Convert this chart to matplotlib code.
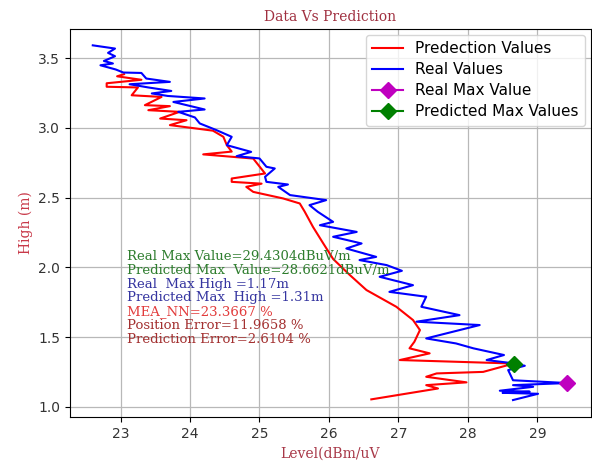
import matplotlib
matplotlib.use("Agg")
import matplotlib.pyplot as plt

# Real (measured) level vs height
real_level = [22.60, 22.92, 22.82, 22.92, 22.76, 22.89, 22.71, 22.93, 23.04, 23.30,
              23.37, 23.71, 23.13, 23.40, 23.73, 23.45, 23.68, 24.21, 23.76, 24.21,
              23.83, 24.07, 24.14, 24.38, 24.60, 24.53, 24.88, 24.67, 25.00, 25.10,
              25.22, 25.08, 25.10, 25.41, 25.27, 25.44, 25.96, 25.72, 25.84, 26.06,
              25.87, 26.40, 26.06, 26.47, 26.25, 26.68, 26.44, 26.83, 27.05, 26.73,
              27.21, 26.87, 27.40, 27.33, 27.88, 27.26, 28.17, 27.40, 27.83, 28.08,
              28.52, 28.27, 28.66, 28.82, 28.58, 28.65, 29.43, 28.65, 28.94, 28.46,
              28.89, 28.50, 29.01, 28.65]
real_high = [3.592, 3.569, 3.538, 3.514, 3.480, 3.462, 3.449, 3.419, 3.397, 3.394,
             3.354, 3.330, 3.313, 3.290, 3.265, 3.247, 3.229, 3.211, 3.186, 3.132,
             3.115, 3.075, 3.032, 2.984, 2.936, 2.876, 2.828, 2.797, 2.781, 2.721,
             2.709, 2.649, 2.613, 2.594, 2.577, 2.518, 2.482, 2.446, 2.398, 2.326,
             2.302, 2.254, 2.219, 2.171, 2.135, 2.075, 2.052, 2.016, 1.975, 1.932,
             1.872, 1.824, 1.789, 1.717, 1.657, 1.610, 1.586, 1.490, 1.454, 1.419,
             1.371, 1.335, 1.311, 1.294, 1.263, 1.190, 1.170, 1.155, 1.143, 1.115,
             1.108, 1.100, 1.093, 1.048]

# Predicted level vs height
pred_level = [23.05, 22.95, 23.30, 22.80, 22.80, 23.25, 23.16, 23.59, 23.35, 23.71,
              23.40, 23.85, 23.57, 23.95, 23.71, 24.33, 24.48, 24.53, 24.60, 24.19,
              24.91, 25.08, 24.60, 24.60, 25.03, 24.81, 24.91, 25.34, 25.58, 25.65,
              25.77, 25.92, 26.06, 26.30, 26.54, 26.97, 27.21, 27.31, 27.23, 27.16,
              27.45, 27.02, 28.66, 28.22, 27.55, 27.40, 27.98, 27.40, 27.57, 26.61]
pred_high = [3.385, 3.370, 3.345, 3.320, 3.295, 3.290, 3.234, 3.222, 3.163, 3.156,
             3.127, 3.115, 3.067, 3.055, 3.020, 2.980, 2.936, 2.876, 2.830, 2.810,
             2.780, 2.673, 2.637, 2.613, 2.600, 2.577, 2.541, 2.494, 2.458, 2.400,
             2.290, 2.170, 2.060, 1.945, 1.837, 1.717, 1.622, 1.550, 1.466, 1.419,
             1.383, 1.335, 1.310, 1.250, 1.239, 1.215, 1.175, 1.155, 1.131, 1.053]

real_max_value = 29.4304
real_max_high = 1.17
pred_max_value = 28.6621
pred_max_high = 1.31

stats_lines = [
    ("Real Max Value=29.4304dBuV/m", "#2e7d2e"),
    ("Predicted Max  Value=28.6621dBuV/m", "#2e7d2e"),
    ("Real  Max High =1.17m", "#3535a0"),
    ("Predicted Max  High =1.31m", "#3535a0"),
    ("MEA_NN=23.3667 %", "#e23b3b"),
    ("Position Error=11.9658 %", "#a33030"),
    ("Prediction Error=2.6104 %", "#a33030"),
]

fig = plt.figure(figsize=(5.92, 4.66), dpi=100)
ax = fig.add_axes([0.118, 0.105, 0.880, 0.833])

ax.plot(pred_level, pred_high, color="red", lw=1.5, label="Predection Values")
ax.plot(real_level, real_high, color="blue", lw=1.5, label="Real Values")
ax.plot([real_max_value], [real_max_high], color="m", marker="D", markersize=8.5,
        ls="-", label="Real Max Value")
ax.plot([pred_max_value], [pred_max_high], color="green", marker="D", markersize=8.5,
        ls="-", label="Predicted Max Values")

ax.set_xlim(22.27, 29.77)
ax.set_ylim(0.926, 3.71)
ax.set_xticks([23, 24, 25, 26, 27, 28, 29])
ax.set_yticks([1.0, 1.5, 2.0, 2.5, 3.0, 3.5])
ax.grid(True, color="#b8b8b8", lw=0.9)
ax.tick_params(labelsize=10, labelcolor="#333333")

for i, (txt, col) in enumerate(stats_lines):
    ax.text(23.09, 2.08 - 0.1 * i, txt, color=col, family="DejaVu Serif",
            fontsize=9.5, va="center", ha="left")

ax.set_title("Data Vs Prediction", family="DejaVu Serif", fontsize=10,
             color="#a03040", pad=6)
ax.set_xlabel("Level(dBm/uV", family="DejaVu Serif", fontsize=10, color="#a83848")
ax.set_ylabel("High (m)", family="DejaVu Serif", fontsize=10, color="#c83848")

ax.legend(loc="upper right", fontsize=11, numpoints=1, labelspacing=0.4,
          borderaxespad=0.4)

fig.savefig("out.png", dpi=100)
